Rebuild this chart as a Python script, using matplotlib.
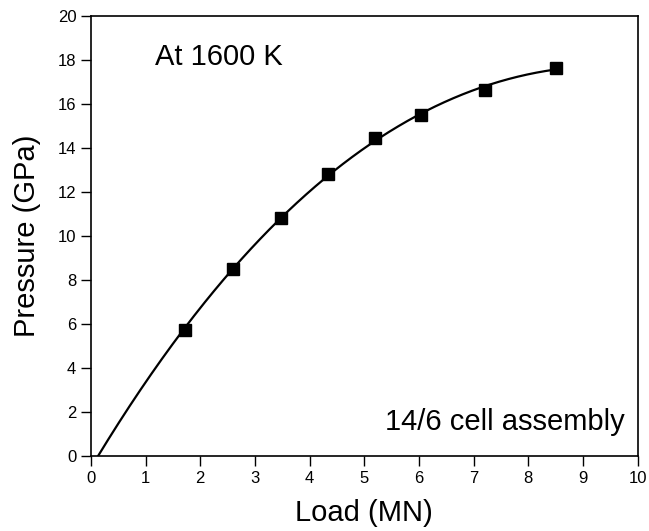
import numpy as np
import matplotlib
matplotlib.use("Agg")
import matplotlib.pyplot as plt

plt.rcParams['font.family'] = ['Liberation Sans', 'DejaVu Sans']

load = [1.72, 2.60, 3.48, 4.34, 5.19, 6.04, 7.21, 8.51]
pressure = [5.73, 8.48, 10.82, 12.82, 14.45, 15.50, 16.64, 17.64]
# x-intercept of the fitted curve
curve_start = 0.12

fig = plt.figure(figsize=(6.49, 5.31), dpi=100)
ax = fig.add_axes([0.140, 0.1412, 0.8426, 0.8292])

fx = np.array([curve_start] + load)
fy = np.array([0.0] + pressure)
coef = np.polyfit(fx, fy, 3)
xs = np.linspace(curve_start, load[-1], 300)
ax.plot(xs, np.polyval(coef, xs), color='black', lw=1.6, zorder=2)
ax.plot(load, pressure, 's', color='black', ms=9, zorder=3)

ax.set_xlim(0, 10)
ax.set_ylim(0, 20)
ax.set_xticks(range(0, 11))
ax.set_yticks(range(0, 21, 2))
ax.tick_params(direction='out', length=7.5, width=1, labelsize=12, top=False, right=False, pad=3)
for s in ax.spines.values():
    s.set_linewidth(1.2)
ax.set_xlabel('Load (MN)', fontsize=21)
ax.set_ylabel('Pressure (GPa)', fontsize=21)
ax.xaxis.set_label_coords(0.5, -0.098)
ax.yaxis.set_label_coords(-0.092, 0.5)
ax.text(0.117, 0.906, 'At 1600 K', transform=ax.transAxes, fontsize=21, va='center')
ax.text(0.977, 0.077, '14/6 cell assembly', transform=ax.transAxes, fontsize=21, va='center', ha='right')

fig.savefig('out.png', dpi=100)
